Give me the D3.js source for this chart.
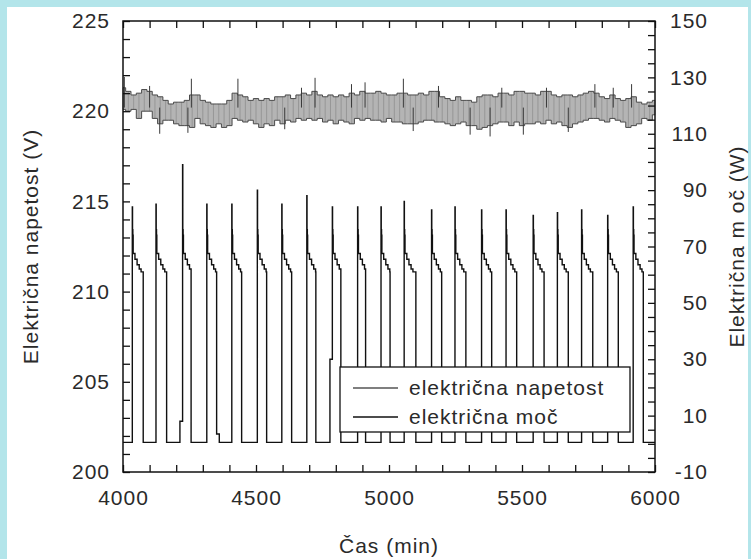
<!DOCTYPE html>
<html>
<head>
<meta charset="utf-8">
<script src="https://cdn.jsdelivr.net/npm/d3@7/dist/d3.min.js"></script>
<style>
  body { margin: 0; background: #b3e5ea; }
  svg { display: block; }
  text { font-family: "Liberation Sans", Arial, sans-serif; font-size: 21px; fill: #2a2a2a; letter-spacing: 1px; }
</style>
</head>
<body>
<div id="chart"></div>
<script>
const voltTime = d3.range(4000, 6001, 20);
const voltHi = [221.3, 221.1, 220.9, 221.0, 221.2, 221.1, 220.9, 220.8, 220.6, 220.4,
  220.5, 220.5, 220.6, 220.9, 220.9, 220.6, 220.5, 220.4, 220.4, 220.4,
  220.6, 221.0, 220.9, 220.8, 220.6, 220.7, 220.6, 220.7, 220.6, 220.8,
  220.8, 220.9, 220.7, 220.9, 221.0, 220.9, 221.1, 220.9, 220.8, 220.9,
  220.8, 220.9, 220.8, 221.0, 220.9, 221.1, 221.0, 221.0, 221.1, 221.0,
  220.9, 220.9, 221.0, 221.0, 220.9, 220.9, 221.0, 220.9, 221.1, 221.1,
  220.8, 220.7, 220.6, 220.8, 220.6, 220.6, 220.5, 220.8, 220.9, 220.9,
  220.8, 221.0, 221.0, 220.9, 221.1, 221.1, 221.0, 221.0, 220.9, 221.1,
  221.1, 220.9, 220.8, 220.9, 220.9, 220.8, 220.9, 221.0, 221.1, 221.0,
  220.8, 220.7, 220.9, 220.7, 220.6, 220.7, 220.8, 220.5, 220.4, 220.5, 220.6];
const voltLo = [220.1, 220.0, 220.1, 219.6, 220.0, 220.0, 219.6, 219.3, 219.5, 219.5,
  219.3, 219.2, 219.2, 219.1, 219.6, 219.3, 219.2, 219.1, 219.3, 219.1,
  219.2, 219.6, 219.5, 219.4, 219.5, 219.3, 219.1, 219.3, 219.2, 219.5,
  219.3, 219.5, 219.4, 219.6, 219.5, 219.6, 219.5, 219.6, 219.4, 219.5,
  219.3, 219.5, 219.4, 219.3, 219.6, 219.5, 219.6, 219.5, 219.5, 219.4,
  219.6, 219.4, 219.4, 219.3, 219.3, 219.3, 219.4, 219.5, 219.5, 219.4,
  219.4, 219.3, 219.2, 219.3, 219.4, 219.2, 219.2, 219.0, 219.1, 219.2,
  219.3, 219.4, 219.4, 219.2, 219.4, 219.2, 219.3, 219.3, 219.4, 219.3,
  219.5, 219.3, 219.4, 219.2, 219.1, 219.3, 219.4, 219.5, 219.6, 219.6,
  219.5, 219.4, 219.6, 219.5, 219.4, 219.1, 219.2, 219.3, 219.6, 219.5, 219.8];
// single-sample voltage spikes (min, V)
const spikeTime = [4005, 4100, 4257, 4432, 4671, 4722, 4859, 4910, 5054, 5186, 5424, 5592, 5774, 5843, 5912,
  4138, 4244, 4608, 5091, 5305, 5380, 5505, 5674];
const spikeVolt = [221.9, 221.4, 221.8, 221.8, 221.3, 221.85, 221.5, 221.6, 221.8, 221.4, 221.3, 221.3, 221.5, 221.3, 221.5,
  218.75, 218.8, 219.0, 218.9, 218.7, 218.6, 218.7, 218.85];

// Power (W): compressor cycles
const pulseOn = [4035, 4124, 4224, 4315, 4409, 4505, 4597, 4691, 4787, 4882, 4970,
  5057, 5160, 5248, 5348, 5440, 5542, 5633, 5724, 5822, 5918];
const pulseOff = [4076, 4164, 4256, 4352, 4446, 4540, 4634, 4725, 4819, 4912, 5004,
  5101, 5198, 5289, 5386, 5480, 5583, 5674, 5766, 5862, 5956];
const pulsePeak = [84, 85, 99, 85, 85, 90, 85, 88, 84, 84, 84,
  86, 83, 84, 83, 83, 81, 82, 83, 81, 84];
// level after the start-up peak (min after switch-on, W)
const shapeDt = [0.8, 1.4, 2.0, 2.6, 3.2, 10, 18, 26, 33];
const shapeW = [73, 76, 70, 74, 67.5, 65.5, 63.5, 62, 61];
const offW = 0.5;
// small steps before / after some cycles
const preIdx = [2, 8], preTime = [4214, 4778], preW = [8, 30];
const postIdx = [3], postEnd = [4362], postW = [3.5];

const xMajor = [4000, 4500, 5000, 5500, 6000];
const voltLabels = [200, 205, 210, 215, 220, 225];
const powerLabels = [-10, 10, 30, 50, 70, 90, 110, 130, 150];

const W = 751, H = 559;
const L = 123, R = 655, T = 21, B = 472;

const svg = d3.select('#chart').append('svg')
  .attr('width', W).attr('height', H);

svg.append('rect').attr('x', 7).attr('y', 7).attr('width', 741).attr('height', H - 7)
  .attr('fill', '#fff');

const x = d3.scaleLinear().domain([4000, 6000]).range([L, R]);
const yV = d3.scaleLinear().domain([200, 225]).range([B, T]);
const yP = d3.scaleLinear().domain([-10, 150]).range([B, T]);

// voltage band
const band = voltTime.map((t, i) => ({ t, hi: voltHi[i], lo: voltLo[i] }));
svg.append('path')
  .datum(band)
  .attr('fill', '#b4b4b4')
  .attr('d', d3.area().curve(d3.curveStep)
    .x(d => x(d.t)).y0(d => yV(d.lo)).y1(d => yV(d.hi)));
// range strokes give the noisy texture
svg.append('g').selectAll('line')
  .data(band)
  .join('line')
  .attr('x1', d => x(d.t)).attr('x2', d => x(d.t))
  .attr('y1', d => yV(d.lo)).attr('y2', d => yV(d.hi))
  .attr('stroke', '#8a8a8a')
  .attr('stroke-width', 0.7);
['hi', 'lo'].forEach(k => {
  svg.append('path')
    .datum(band)
    .attr('fill', 'none')
    .attr('stroke', '#4a4a4a')
    .attr('stroke-width', 1)
    .attr('d', d3.line().curve(d3.curveStep).x(d => x(d.t)).y(d => yV(d[k])));
});
svg.append('g').selectAll('line')
  .data(spikeTime)
  .join('line')
  .attr('x1', d => x(d)).attr('x2', d => x(d))
  .attr('y1', yV(220.2))
  .attr('y2', (d, i) => yV(spikeVolt[i]))
  .attr('stroke', '#3a3a3a')
  .attr('stroke-width', 1);

// power step line
const pts = [{ t: 4000, w: offW }];
pulseOn.forEach((on, i) => {
  const p = preIdx.indexOf(i);
  if (p >= 0) pts.push({ t: preTime[p], w: preW[p] });
  pts.push({ t: on, w: pulsePeak[i] });
  shapeDt.forEach((dt, j) => {
    if (on + dt < pulseOff[i]) pts.push({ t: on + dt, w: shapeW[j] });
  });
  const q = postIdx.indexOf(i);
  if (q >= 0) {
    pts.push({ t: pulseOff[i], w: postW[q] });
    pts.push({ t: postEnd[q], w: offW });
  } else {
    pts.push({ t: pulseOff[i], w: offW });
  }
});
pts.push({ t: 6000, w: offW });

svg.append('path')
  .datum(pts)
  .attr('fill', 'none')
  .attr('stroke', '#111')
  .attr('stroke-width', 1.4)
  .attr('d', d3.line().curve(d3.curveStepAfter).x(d => x(d.t)).y(d => yP(d.w)));

// axes (ticks pointing inward)
const gl = svg.append('g').attr('transform', `translate(${L},0)`)
  .call(d3.axisLeft(yV).tickValues(d3.range(200, 225.01, 1)).tickSize(-7).tickPadding(13)
    .tickFormat(d => voltLabels.includes(d) ? d : ''));
const gr = svg.append('g').attr('transform', `translate(${R},0)`)
  .call(d3.axisRight(yP).tickValues(d3.range(-10, 150.01, 5)).tickSize(-7).tickPadding(13)
    .tickFormat(d => powerLabels.includes(d) ? d : ''));
gr.selectAll('text').attr('text-anchor', 'end').attr('x', 53);
const gb = svg.append('g').attr('transform', `translate(0,${B})`)
  .call(d3.axisBottom(x).tickValues(d3.range(4000, 6000.1, 100)).tickSize(-7).tickPadding(18)
    .tickFormat(d => xMajor.includes(d) ? d : ''));
const gt = svg.append('g').attr('transform', `translate(0,${T})`)
  .call(d3.axisTop(x).tickValues(d3.range(4000, 6000.1, 100)).tickSize(-7).tickFormat(''));

[gl, gr, gb, gt].forEach(g => {
  g.select('.domain').remove();
  g.selectAll('.tick line').attr('stroke', '#111').attr('stroke-width', 1.3);
  g.selectAll('text').attr('font-size', null).attr('font-family', null).attr('fill', '#2a2a2a');
});

svg.append('rect')
  .attr('x', L).attr('y', T).attr('width', R - L).attr('height', B - T)
  .attr('fill', 'none').attr('stroke', '#111').attr('stroke-width', 1.5);

// axis titles
svg.append('text')
  .attr('transform', `translate(38,${(T + B) / 2}) rotate(-90)`)
  .attr('text-anchor', 'middle')
  .text('Električna napetost (V)');
svg.append('text')
  .attr('transform', `translate(744,${(T + B) / 2}) rotate(-90)`)
  .attr('text-anchor', 'middle')
  .text('Električna m oč (W)');
svg.append('text')
  .attr('x', (L + R) / 2).attr('y', 553)
  .attr('text-anchor', 'middle')
  .text('Čas (min)');

// legend
const lg = svg.append('g');
lg.append('rect')
  .attr('x', 340).attr('y', 367).attr('width', 290).attr('height', 65)
  .attr('fill', '#fff').attr('stroke', '#111').attr('stroke-width', 1.3);
const legendItems = [
  { label: 'električna napetost', color: '#555', y: 388 },
  { label: 'električna moč', color: '#111', y: 417 }
];
legendItems.forEach(d => {
  lg.append('line')
    .attr('x1', 353).attr('x2', 398).attr('y1', d.y).attr('y2', d.y)
    .attr('stroke', d.color).attr('stroke-width', 1.5);
  lg.append('text')
    .attr('x', 409).attr('y', d.y).attr('dy', '0.35em')
    .text(d.label);
});
</script>
</body>
</html>
